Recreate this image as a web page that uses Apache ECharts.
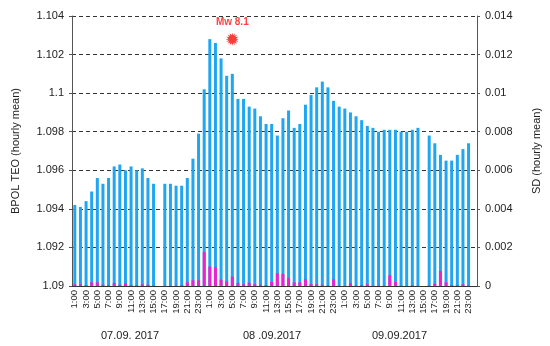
<!DOCTYPE html>
<html><head><meta charset="utf-8">
<script src="https://cdn.jsdelivr.net/npm/echarts@6/dist/echarts.min.js"></script>
<style>html,body{margin:0;padding:0;background:#fff}#c{width:550px;height:346px}</style>
</head><body><div id="c"></div>
<script>
var hours = ["1:00","2:00","3:00","4:00","5:00","6:00","7:00","8:00","9:00","10:00","11:00","12:00",
             "13:00","14:00","15:00","16:00","17:00","18:00","19:00","20:00","21:00","22:00","23:00","24:00"];
var days = ["07.09. 2017","08 .09.2017","09.09.2017"];
var teo = [
 1.0942,1.0941,1.0944,1.0949,1.0956,1.0953,1.0956,1.0962,1.0963,1.0960,1.0962,1.0960,
 1.0961,1.0956,1.0953,null,1.0953,1.0953,1.0952,1.0952,1.0956,1.0966,1.0979,1.1002,
 1.1028,1.1026,1.1018,1.1009,1.1010,1.0997,1.0997,1.0993,1.0992,1.0988,1.0984,1.0984,
 1.0978,1.0987,1.0991,1.0982,1.0984,1.0994,1.0999,1.1003,1.1006,1.1003,1.0996,1.0993,
 1.0992,1.0990,1.0988,1.0986,1.0983,1.0982,1.0980,1.0981,1.0981,1.0981,1.0980,1.0980,
 1.0981,1.0982,null,1.0978,1.0974,1.0968,1.0965,1.0965,1.0968,1.0971,1.0974,null];
var sd = [
 0.00009,0.00009,0.00005,0.00019,0.00019,0.00007,0.00005,0.00016,0.00007,0.00014,0.00005,0.00005,
 0.00009,0.00007,0.00003,null,0.00001,0.00002,0.00002,0.00005,0.00019,0.00030,0.00030,0.00177,
 0.00101,0.00097,0.00033,0.00024,0.00049,0.00016,0.00009,0.00017,0.00009,0.00007,0.00005,0.00021,
 0.00066,0.00063,0.00042,0.00019,0.00019,0.00035,0.00010,0.00009,0.00007,0.00003,0.00035,0.00001,
 0.00001,0.00014,0.00002,0.00005,0.00009,0.00002,0.00002,0.00002,0.00056,0.00021,0.00002,0.00002,
 0.00005,0.00001,null,0.00002,0.00012,0.00078,0.00019,0.00005,0.00005,0.00009,0.00002,null];
var eventLabel = "Mw 8.1";
var eventHour = 28;     // category index of the earthquake marker
var eventValue = 1.1028;

var categories = [];
days.forEach(function(d){ hours.forEach(function(h){ categories.push(h); }); });

// starburst symbol path
function burst(n){
  var p = [];
  for (var i = 0; i < 2*n; i++){
    var r = (i % 2 === 0) ? 50 : 30;
    var a = Math.PI * i / n;
    p.push((i===0?'M':'L') + (50 + r*Math.sin(a)).toFixed(2) + ' ' + (50 - r*Math.cos(a)).toFixed(2));
  }
  return 'path://' + p.join(' ') + ' Z';
}

var chart = echarts.init(document.getElementById('c'), null, {renderer:'canvas'});
var font = 'Liberation Sans, Arial, sans-serif';
var dashed = {show:true, lineStyle:{color:'#333', type:[4,3], width:1}};
chart.setOption({
  animation:false,
  textStyle:{fontFamily:font},
  grid:{left:72, right:62, top:16, bottom:60, containLabel:false},
  xAxis:{type:'category', data:categories, boundaryGap:true,
    axisLine:{lineStyle:{color:'#333'}},
    axisTick:{interval:0, length:3, lineStyle:{color:'#333'}},
    axisLabel:{interval:1, rotate:90, fontSize:9.5, color:'#222', margin:4, fontFamily:font}},
  yAxis:[
    {type:'value', min:1.09, max:1.104, interval:0.002, position:'left',
     name:'BPOL TEO (hourly mean)', nameLocation:'middle', nameRotate:90, nameGap:51,
     nameTextStyle:{fontSize:11, color:'#222', fontFamily:font},
     axisLine:{show:true, lineStyle:{color:'#555'}},
     axisTick:{show:true, length:3, lineStyle:{color:'#555'}},
     axisLabel:{fontSize:11, color:'#222', margin:8, fontFamily:font},
     splitLine:dashed},
    {type:'value', min:0, max:0.014, interval:0.002, position:'right',
     name:'SD (hourly mean)', nameLocation:'middle', nameRotate:90, nameGap:54,
     nameTextStyle:{fontSize:11, color:'#222', fontFamily:font},
     axisLine:{show:true, lineStyle:{color:'#555'}},
     axisTick:{show:true, length:3, lineStyle:{color:'#555'}},
     axisLabel:{fontSize:11, color:'#222', margin:8, fontFamily:font},
     splitLine:{show:false}}
  ],
  series:[
    {type:'bar', yAxisIndex:0, data:teo, barWidth:3, barGap:'-100%',
     itemStyle:{color:'#1ea6f2'}},
    {type:'bar', yAxisIndex:1, data:sd, barWidth:3, barGap:'-100%',
     itemStyle:{color:'#ee22cc'}},
    {type:'scatter', yAxisIndex:0, data:[[eventHour, eventValue]], symbol:burst(16), symbolSize:13,
     itemStyle:{color:'#ff0a0a'}, z:10,
     label:{show:true, position:'top', distance:5, formatter:eventLabel, color:'#ff1010',
            fontSize:10, fontWeight:'bold', fontFamily:font}}
  ],
  graphic:[
    {type:'text', left:101, top:330, style:{text:days[0], fill:'#222', font:'11px '+font}},
    {type:'text', left:243, top:330, style:{text:days[1], fill:'#222', font:'11px '+font}},
    {type:'text', left:372, top:330, style:{text:days[2], fill:'#222', font:'11px '+font}}
  ]
});
</script></body></html>
